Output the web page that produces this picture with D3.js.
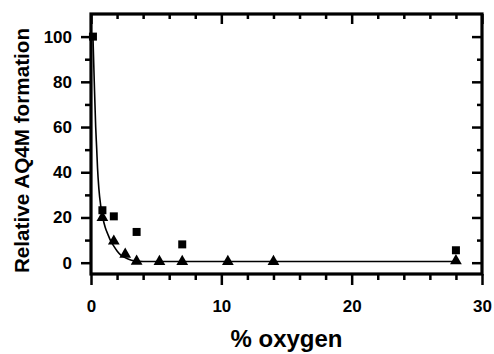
<!DOCTYPE html>
<html>
<head>
<meta charset="utf-8">
<script src="https://cdn.jsdelivr.net/npm/d3@7"></script>
<style>
  body { margin: 0; background: #fff; }
  svg { display: block; }
  text { font-family: "Liberation Sans", Arial, sans-serif; font-weight: bold; fill: #000; }
</style>
</head>
<body>
<svg id="chart" width="494" height="354"></svg>
<script>
// data
const squareX = [0.15, 0.875, 1.75, 3.5, 7, 28];
const squareY = [100, 23.2, 20.5, 13.6, 8.1, 5.5];
const triX = [0.875, 1.75, 2.625, 3.5, 5.25, 7, 10.5, 14, 28];
const triY = [20, 9.5, 3.7, 0.6, 0.5, 0.5, 0.5, 0.5, 0.8];
// fitted curve
const fitX = [0.15, 0.25, 0.36, 0.44, 0.5, 0.6, 0.75, 0.9, 1.1, 1.3, 1.5, 1.75, 2.0, 2.25, 2.5, 2.8, 3.1, 3.5, 4, 5, 28];
const fitY = [100, 80, 60, 50, 42, 33, 25, 20, 15.5, 12.5, 9.8, 7.3, 5.2, 3.6, 2.6, 1.7, 1.1, 0.7, 0.55, 0.5, 0.5];
const xMajor = [0, 10, 20, 30];
const yMajor = [0, 20, 40, 60, 80, 100];

const svg = d3.select('#chart');
const pL = 91, pR = 482, pT = 14, pB = 274;

const x = d3.scaleLinear().domain([0, 30]).range([pL, pR]);
const y = d3.scaleLinear().domain([-5, 110]).range([pB, pT]);

const xMinor = d3.range(2, 30, 2).filter(v => v % 10 !== 0);
const yMinor = d3.range(10, 110, 20);

function styleAxis(g) {
  g.select('.domain').remove();
  g.selectAll('line').attr('stroke', '#000').attr('stroke-width', 2.5);
  g.selectAll('text')
    .attr('font-size', 17)
    .style('font-family', '"Liberation Sans", Arial, sans-serif')
    .style('font-weight', 'bold');
}

// bottom (outward ticks, labelled)
svg.append('g').attr('transform', `translate(0,${pB})`)
  .call(d3.axisBottom(x).tickValues(xMajor).tickSize(11).tickPadding(15).tickFormat(d3.format('d')))
  .call(styleAxis);
svg.append('g').attr('transform', `translate(0,${pB})`)
  .call(d3.axisBottom(x).tickValues(xMinor).tickSize(6).tickFormat(''))
  .call(styleAxis);

// left (outward ticks, labelled)
svg.append('g').attr('transform', `translate(${pL},0)`)
  .call(d3.axisLeft(y).tickValues(yMajor).tickSize(10).tickPadding(9).tickFormat(d3.format('d')))
  .call(styleAxis);
svg.append('g').attr('transform', `translate(${pL},0)`)
  .call(d3.axisLeft(y).tickValues(yMinor).tickSize(6).tickFormat(''))
  .call(styleAxis);

// top and right mirrors, inward ticks
svg.append('g').attr('transform', `translate(0,${pT})`)
  .call(d3.axisBottom(x).tickValues(xMajor).tickSize(10).tickFormat(''))
  .call(styleAxis);
svg.append('g').attr('transform', `translate(0,${pT})`)
  .call(d3.axisBottom(x).tickValues(xMinor).tickSize(5).tickFormat(''))
  .call(styleAxis);
svg.append('g').attr('transform', `translate(${pR},0)`)
  .call(d3.axisLeft(y).tickValues(yMajor).tickSize(10).tickFormat(''))
  .call(styleAxis);
svg.append('g').attr('transform', `translate(${pR},0)`)
  .call(d3.axisLeft(y).tickValues(yMinor).tickSize(5).tickFormat(''))
  .call(styleAxis);

// frame
svg.append('rect')
  .attr('x', pL).attr('y', pT)
  .attr('width', pR - pL).attr('height', pB - pT)
  .attr('fill', 'none').attr('stroke', '#000').attr('stroke-width', 3.2);

// fitted curve
const fit = fitX.map((v, i) => [v, fitY[i]]);
svg.append('path')
  .datum(fit)
  .attr('fill', 'none').attr('stroke', '#000').attr('stroke-width', 1.6)
  .attr('d', d3.line().x(d => x(d[0])).y(d => y(d[1])).curve(d3.curveMonotoneX));

// squares
svg.append('g').selectAll('path')
  .data(squareX.map((v, i) => [v, squareY[i]]))
  .join('path')
  .attr('transform', d => `translate(${x(d[0])},${y(d[1])})`)
  .attr('d', d3.symbol(d3.symbolSquare, 64))
  .attr('fill', '#000');

// triangles
svg.append('g').selectAll('path')
  .data(triX.map((v, i) => [v, triY[i]]))
  .join('path')
  .attr('transform', d => `translate(${x(d[0])},${y(d[1])})`)
  .attr('d', d3.symbol(d3.symbolTriangle, 60))
  .attr('fill', '#000');

// axis titles
svg.append('text')
  .attr('x', (pL + pR) / 2).attr('y', 347)
  .attr('text-anchor', 'middle').attr('font-size', 24)
  .text('% oxygen');
svg.append('text')
  .attr('transform', 'translate(28.5,150.5) rotate(-90)')
  .attr('text-anchor', 'middle').attr('font-size', 20.7)
  .text('Relative AQ4M formation');
</script>
</body>
</html>
